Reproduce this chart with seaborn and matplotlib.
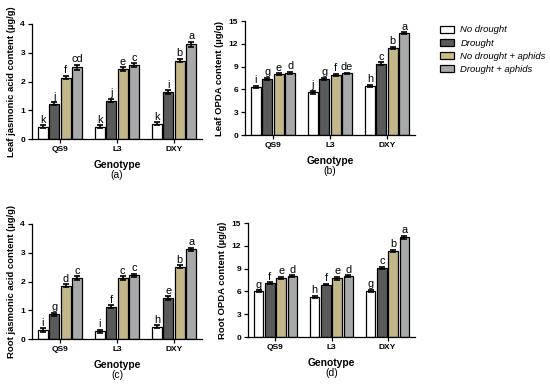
import pandas as pd
import matplotlib
matplotlib.use("Agg")
import matplotlib.pyplot as plt
import seaborn as sns

# genotypes and treatments
genotipos = ['QS9', 'L3', 'DXY']
tratamientos = ['No drought', 'Drought', 'No drought + aphids', 'Drought + aphids']
colores = ['#ffffff', '#5a5a5a', '#cdbd7f', '#a7a9ac']

# values per treatment, order QS9, L3, DXY
hoja_ja = [[0.42, 0.42, 0.53], [1.23, 1.33, 1.63], [2.13, 2.43, 2.73], [2.50, 2.57, 3.30]]
hoja_ja_err = [[0.05, 0.05, 0.05], [0.05, 0.06, 0.06], [0.06, 0.06, 0.06], [0.09, 0.06, 0.09]]
hoja_ja_letras = [['k', 'k', 'k'], ['j', 'j', 'i'], ['f', 'e', 'b'], ['cd', 'c', 'a']]

hoja_opda = [[6.3, 5.6, 6.5], [7.4, 7.35, 9.4], [8.0, 7.9, 11.5], [8.2, 8.1, 13.4]]
hoja_opda_err = [[0.15, 0.2, 0.12], [0.15, 0.15, 0.15], [0.12, 0.12, 0.12], [0.12, 0.12, 0.12]]
hoja_opda_letras = [['i', 'j', 'h'], ['g', 'g', 'c'], ['e', 'f', 'b'], ['d', 'de', 'a']]

raiz_ja = [[0.32, 0.27, 0.42], [0.86, 1.12, 1.42], [1.85, 2.12, 2.52], [2.12, 2.22, 3.12]]
raiz_ja_err = [[0.06, 0.05, 0.05], [0.05, 0.05, 0.06], [0.05, 0.06, 0.05], [0.06, 0.05, 0.06]]
raiz_ja_letras = [['i', 'i', 'h'], ['g', 'f', 'e'], ['d', 'c', 'b'], ['c', 'c', 'a']]

raiz_opda = [[6.0, 5.3, 6.1], [7.1, 6.9, 9.1], [7.8, 7.75, 11.3], [8.0, 8.0, 13.1]]
raiz_opda_err = [[0.12, 0.12, 0.12], [0.12, 0.12, 0.15], [0.15, 0.2, 0.15], [0.12, 0.12, 0.2]]
raiz_opda_letras = [['g', 'h', 'g'], ['f', 'f', 'c'], ['e', 'e', 'b'], ['d', 'd', 'a']]


def armar_df(valores):
    filas = []
    for i, t in enumerate(tratamientos):
        for j, g in enumerate(genotipos):
            filas.append({'Genotype': g, 'Treatment': t, 'Valor': valores[i][j]})
    return pd.DataFrame(filas)


def dibujar_panel(ax, valores, errores, letras, ylabel, ymax, paso, etiqueta, fuente):
    df = armar_df(valores)
    sns.barplot(data=df, x='Genotype', y='Valor', hue='Treatment',
                order=genotipos, hue_order=tratamientos, palette=colores,
                edgecolor='black', linewidth=0.9, width=0.8, gap=0.15,
                errorbar=None, legend=False, ax=ax)
    contenedores = list(ax.containers)
    for i, cont in enumerate(contenedores):
        for j, barra in enumerate(cont.patches):
            xc = barra.get_x() + barra.get_width() / 2
            h = barra.get_height()
            ax.errorbar(xc, h, yerr=errores[i][j], color='black', capsize=2.4,
                        elinewidth=1.2, capthick=1.2)
            ax.text(xc, h + errores[i][j] + ymax * 0.005, letras[i][j],
                    ha='center', va='bottom', fontsize=7.8, family=fuente)
    ax.set_ylim(0, ymax)
    ax.set_yticks(range(0, ymax + 1, paso))
    ax.set_xlim(-0.49, 2.49)
    ax.set_ylabel(ylabel, fontsize=6.8, fontweight='bold', labelpad=3)
    ax.set_xlabel('Genotype', fontsize=7.4, fontweight='bold', labelpad=5)
    ax.text(0.5, -0.315, etiqueta, transform=ax.transAxes, ha='center', va='center',
            fontsize=7.4)
    for lbl in ax.get_xticklabels() + ax.get_yticklabels():
        lbl.set_fontweight('bold')
    ax.tick_params(axis='both', labelsize=6.0, length=3, width=0.9, pad=2,
                   direction='out', color='black', labelcolor='black')
    sns.despine(ax=ax)
    for s in ['left', 'bottom']:
        ax.spines[s].set_linewidth(0.9)
        ax.spines[s].set_color('black')
    ax.grid(False)


def generar_figura():
    sns.set_theme(style='ticks')
    fuente = ['Liberation Sans', 'DejaVu Sans']
    plt.rcParams['font.family'] = fuente
    plt.rcParams['text.color'] = 'black'
    plt.rcParams['axes.labelcolor'] = 'black'

    fig = plt.figure(figsize=(5.5, 3.84), dpi=100)
    W, H = 550, 384

    def eje(x0, y0, x1, y1):
        return fig.add_axes([x0 / W, 1 - y1 / H, (x1 - x0) / W, (y1 - y0) / H])

    ax_a = eje(32, 24, 202, 139)
    ax_b = eje(245, 21, 415, 135)
    ax_c = eje(32, 224, 202, 339)
    ax_d = eje(248, 223, 415, 337)

    dibujar_panel(ax_a, hoja_ja, hoja_ja_err, hoja_ja_letras,
                  'Leaf jasmonic acid content (µg/g)', 4, 1, '(a)', fuente)
    dibujar_panel(ax_b, hoja_opda, hoja_opda_err, hoja_opda_letras,
                  'Leaf OPDA content (µg/g)', 15, 3, '(b)', fuente)
    dibujar_panel(ax_c, raiz_ja, raiz_ja_err, raiz_ja_letras,
                  'Root jasmonic acid content (µg/g)', 4, 1, '(c)', fuente)
    dibujar_panel(ax_d, raiz_opda, raiz_opda_err, raiz_opda_letras,
                  'Root OPDA content (µg/g)', 15, 3, '(d)', fuente)

    handles = [plt.Rectangle((0, 0), 1, 1, facecolor=c, edgecolor='black', linewidth=0.9)
               for c in colores]
    fig.legend(handles, tratamientos, loc='upper left',
               bbox_to_anchor=(431 / W, 1 - 17 / H), frameon=False,
               prop={'size': 6.8, 'style': 'italic', 'family': fuente},
               handlelength=1.5, handleheight=0.75, handletextpad=0.7,
               labelspacing=0.45)

    fig.savefig('out.png', dpi=100, facecolor='white')


if __name__ == '__main__':
    generar_figura()
